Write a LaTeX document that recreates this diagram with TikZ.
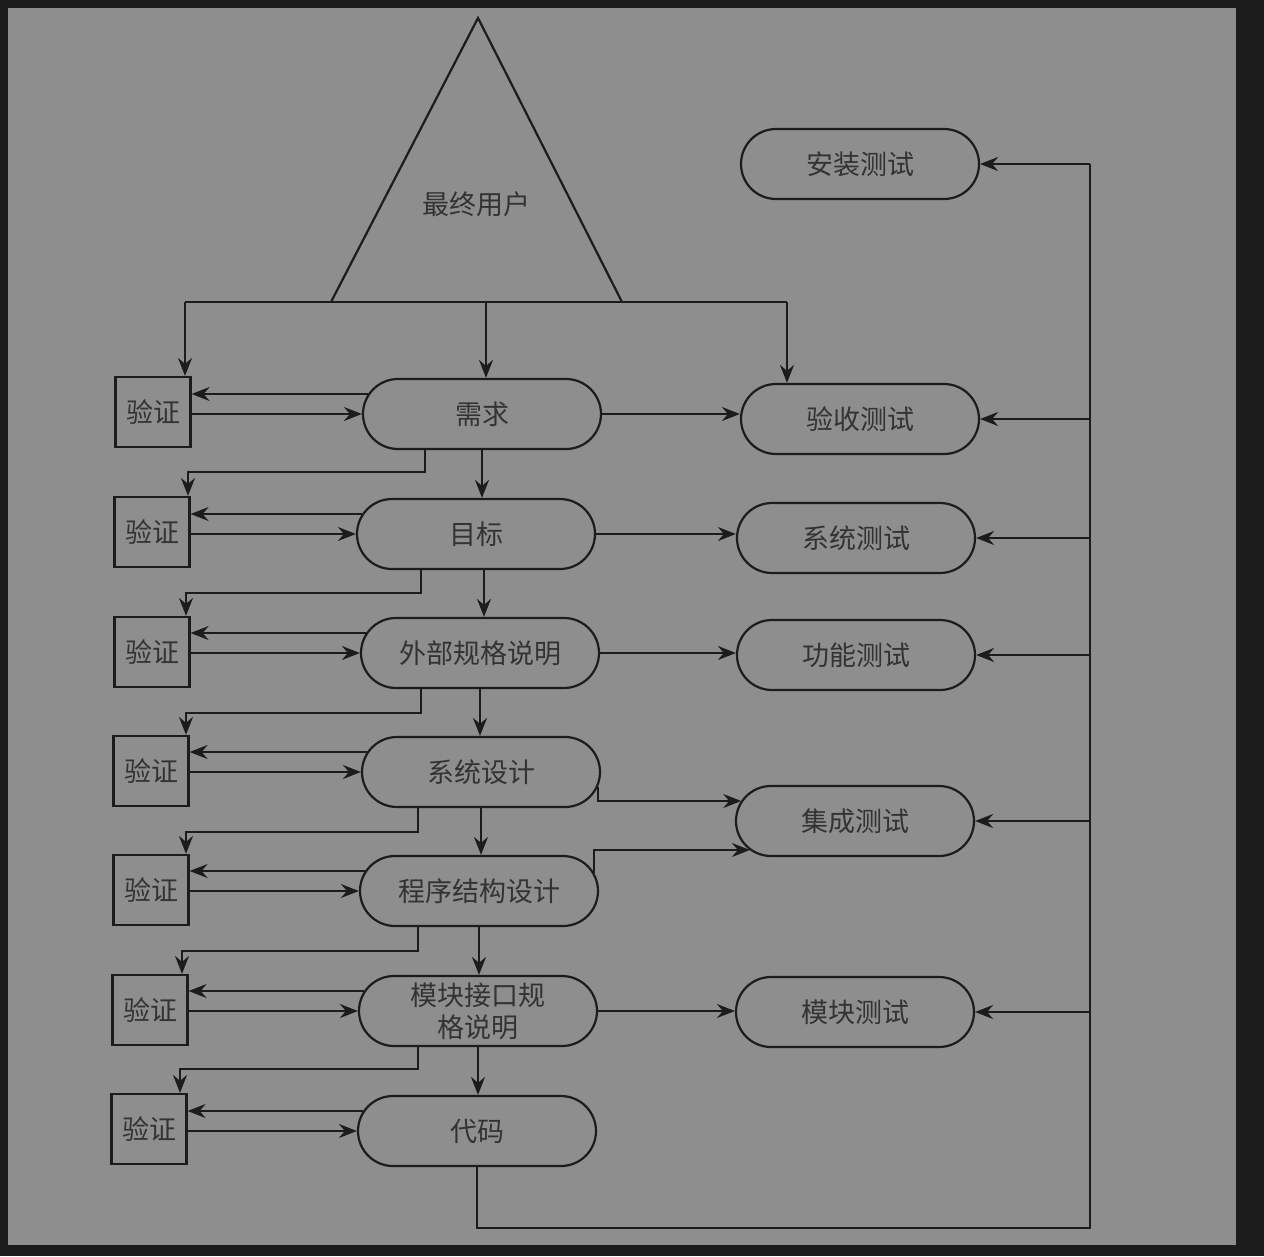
\documentclass[tikz,border=0pt]{standalone}
\usepackage{fontspec}
\newfontfamily\cjk{Noto Sans CJK SC}
\usetikzlibrary{arrows.meta,calc,shapes.misc}
\definecolor{bgdark}{HTML}{1B1B1B}
\definecolor{bggray}{HTML}{8E8E8E}
\definecolor{ink}{HTML}{1C1C1C}
\definecolor{txt}{HTML}{333333}
\begin{document}
\begin{tikzpicture}[x=1pt,y=-1pt,
 every node/.style={font=\cjk\fontsize{27}{32}\selectfont, text=txt},
 stad/.style={draw=ink, line width=2.2pt, rounded rectangle, minimum width=238pt, minimum height=70pt, inner sep=0pt, align=center},
 vbox/.style={draw=ink, line width=2.2pt, rectangle, minimum width=75pt, minimum height=70pt, inner sep=0pt},
 ln/.style={draw=ink, line width=2pt},
 arr/.style={ln, -{Stealth[length=18pt,width=14pt,inset=6pt]}}]
\useasboundingbox (0,0) rectangle (1264,1256);
\fill[bgdark] (0,0) rectangle (1264,1256);
\fill[bggray] (8,8) rectangle (1236,1245);

% triangle
\coordinate (tA) at (478,18);
\coordinate (tL) at (331,302);
\coordinate (tR) at (622,302);
\draw[ln, line width=2.2pt, line join=miter] (tL) -- (tA) -- (tR);
\node (eu) at (476,204) {最终用户};

% middle nodes
\node[stad] (req)  at (482,414) {需求};
\node[stad] (goal) at (476,534) {目标};
\node[stad] (ext)  at (480,653) {外部规格说明};
\node[stad] (sysd) at (481,772) {系统设计};
\node[stad] (prog) at (479,891) {程序结构设计};
\node[stad] (mod)  at (478,1011) {模块接口规\\格说明};
\node[stad] (code) at (477,1131) {代码};

% right nodes
\node[stad] (inst)  at (860,164) {安装测试};
\node[stad] (acc)   at (860,419) {验收测试};
\node[stad] (syst)  at (856,538) {系统测试};
\node[stad] (func)  at (856,655) {功能测试};
\node[stad] (integ) at (855,821) {集成测试};
\node[stad] (modt)  at (855,1012) {模块测试};

% verification boxes
\node[vbox] (b1) at (153,412) {验证};
\node[vbox] (b2) at (152,532) {验证};
\node[vbox] (b3) at (152,652) {验证};
\node[vbox] (b4) at (151,771) {验证};
\node[vbox] (b5) at (151,890) {验证};
\node[vbox] (b6) at (150,1010) {验证};
\node[vbox] (b7) at (149,1129) {验证};

% top distribution line
\coordinate (tl1) at (185,302);
\coordinate (tm1) at (486,302);
\coordinate (tr1) at (787,302);
\draw[ln] (tl1) -- (tr1);
\draw[arr] (tl1) -- (tl1 |- b1.north);
\draw[arr] (tm1) -- (tm1 |- req.north);
\draw[arr] (tr1) -- (tr1 |- acc.north);

% middle vertical arrows
\draw[arr] (req.south) -- (req.south |- goal.north);
\draw[arr] ([xshift=8pt]goal.south) -- ([xshift=8pt]goal.south |- ext.north);
\draw[arr] (ext.south) -- (ext.south |- sysd.north);
\draw[arr] (sysd.south) -- (sysd.south |- prog.north);
\draw[arr] (prog.south) -- (prog.south |- mod.north);
\draw[arr] (mod.south) -- (mod.south |- code.north);

% left row connectors
\foreach \m/\b in {req/b1,goal/b2,ext/b3,sysd/b4,prog/b5,mod/b6,code/b7}{
  \coordinate (u\b) at ($(\m.west)+(5.6,-20)$);
  \draw[arr] (u\b) -- (u\b -| \b.east);
  \draw[arr] (\b.east |- \m.west) -- (\m.west);
}

% step connectors to next verification box
\draw[arr] ($(req.south)+(-57,0)$) -- ++(0,22) -| ([xshift=36pt]b2.north);
\draw[arr] ($(goal.south)+(-55,0)$) -- ++(0,23) -| ([xshift=34pt]b3.north);
\draw[arr] ($(ext.south)+(-59,0)$) -- ++(0,24) -| ([xshift=35pt]b4.north);
\draw[arr] ($(sysd.south)+(-63,0)$) -- ++(0,24) -| ([xshift=35pt]b5.north);
\draw[arr] ($(prog.south)+(-61,0)$) -- ++(0,24) -| ([xshift=32pt]b6.north);
\draw[arr] ($(mod.south)+(-60,0)$) -- ++(0,22) -| ([xshift=31pt]b7.north);

% middle to right
\draw[arr] (req.east) -- (req.east -| acc.west);
\draw[arr] (goal.east) -- (goal.east -| syst.west);
\draw[arr] (ext.east) -- (ext.east -| func.west);
\coordinate (s1) at ($(sysd.east)+(-3.4,15)$);
\coordinate (i1) at ($(integ.west)+(6.3,-20)$);
\draw[arr] (s1) -- (s1 |- i1) -- (i1);
\coordinate (p1) at ($(prog.east)+(-5,-18)$);
\coordinate (i2) at ($(integ.west)+(15,29)$);
\draw[arr] (p1) -- (p1 |- i2) -- (i2);
\draw[arr] (mod.east) -- (mod.east -| modt.west);

% feedback loop
\coordinate (fb) at (1090,1228);
\draw[ln] (code.south) -- (code.south |- fb) -- (fb) -- (fb |- inst.east);
\draw[arr] (fb |- inst.east) -- (inst.east);
\draw[arr] (fb |- acc.east) -- (acc.east);
\draw[arr] (fb |- syst.east) -- (syst.east);
\draw[arr] (fb |- func.east) -- (func.east);
\draw[arr] (fb |- integ.east) -- (integ.east);
\draw[arr] (fb |- modt.east) -- (modt.east);
\end{tikzpicture}
\end{document}
